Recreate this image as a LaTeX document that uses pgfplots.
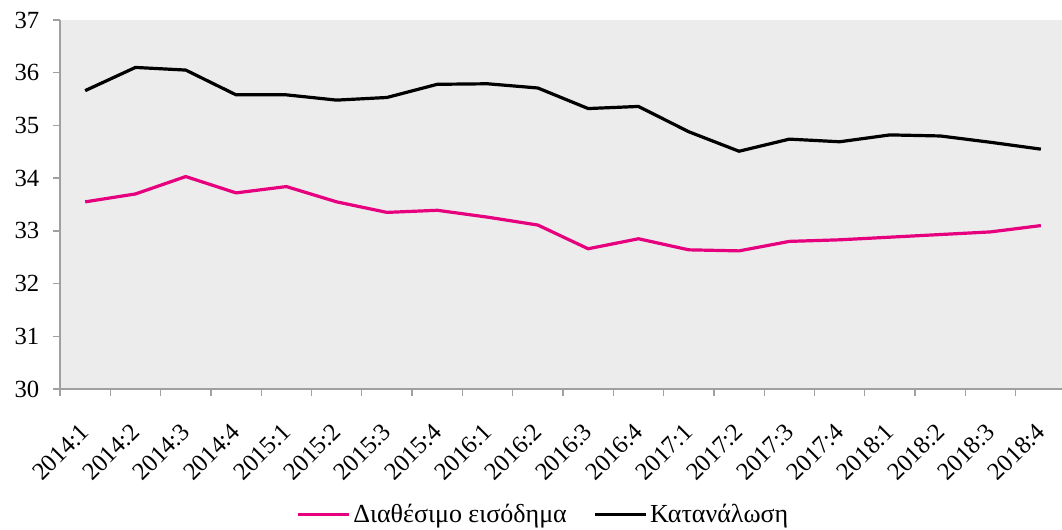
\documentclass[border=0pt]{standalone}
\usepackage{fontspec}
\setmainfont{Liberation Serif}
\usepackage{pgfplots}
\pgfplotsset{compat=1.18}
\definecolor{bg}{RGB}{236,236,236}
\definecolor{axgray}{RGB}{160,160,160}
\definecolor{pinkline}{RGB}{230,0,126}
\begin{document}
\begin{tikzpicture}[font=\fontsize{18.5pt}{21pt}\selectfont]
\useasboundingbox (0,0) rectangle (796.5pt,397.5pt);
\begin{axis}[
 at={(45pt,105.75pt)}, anchor=south west,
 scale only axis, width=754.5pt, height=276.75pt,
 xmin=-0.5, xmax=19.5, ymin=30, ymax=37,
 axis lines*=left,
 axis line style={axgray, line width=1pt},
 axis background/.style={fill=bg},
 /pgf/number format/assume math mode=true,
 ytick={30,...,37},
 xtick={0,...,19},
 xticklabels={2014:1,2014:2,2014:3,2014:4,2015:1,2015:2,2015:3,2015:4,2016:1,2016:2,2016:3,2016:4,2017:1,2017:2,2017:3,2017:4,2018:1,2018:2,2018:3,2018:4},
 minor xtick={-0.5,0.5,...,19.5},
 tick align=outside,
 major tick length=5pt,
 minor tick length=5pt,
 major x tick style={draw=none},
 minor x tick style={axgray, line width=1pt},
 ytick style={axgray, line width=1pt},
 xticklabel style={rotate=45, anchor=east, inner sep=0pt, font=\fontsize{18.5pt}{21pt}\selectfont},
 xticklabel shift=24pt,
 yticklabel style={xshift=-7pt},
 legend style={at={(0.481,-0.341)}, anchor=center, draw=none, fill=none, legend columns=2,
   /tikz/every even column/.append style={column sep=18pt}, font=\fontsize{19.5pt}{22pt}\selectfont},
 legend image code/.code={\draw[#1] (0pt,0pt) -- (38pt,0pt);},
 every axis plot/.append style={line width=2.4pt, line join=round},
]
\addplot[pinkline, mark=none] coordinates {
(0,33.55) (1,33.70) (2,34.03) (3,33.72) (4,33.84) (5,33.55) (6,33.35) (7,33.39) (8,33.26) (9,33.11)
(10,32.66) (11,32.85) (12,32.64) (13,32.62) (14,32.80) (15,32.83) (16,32.88) (17,32.93) (18,32.98) (19,33.10)};
\addlegendentry{Διαθέσιμο εισόδημα}
\addplot[black, mark=none] coordinates {
(0,35.66) (1,36.10) (2,36.05) (3,35.58) (4,35.58) (5,35.48) (6,35.53) (7,35.78) (8,35.79) (9,35.71)
(10,35.32) (11,35.36) (12,34.88) (13,34.51) (14,34.74) (15,34.69) (16,34.82) (17,34.80) (18,34.68) (19,34.55)};
\addlegendentry{Κατανάλωση}
\end{axis}
\end{tikzpicture}
\end{document}
